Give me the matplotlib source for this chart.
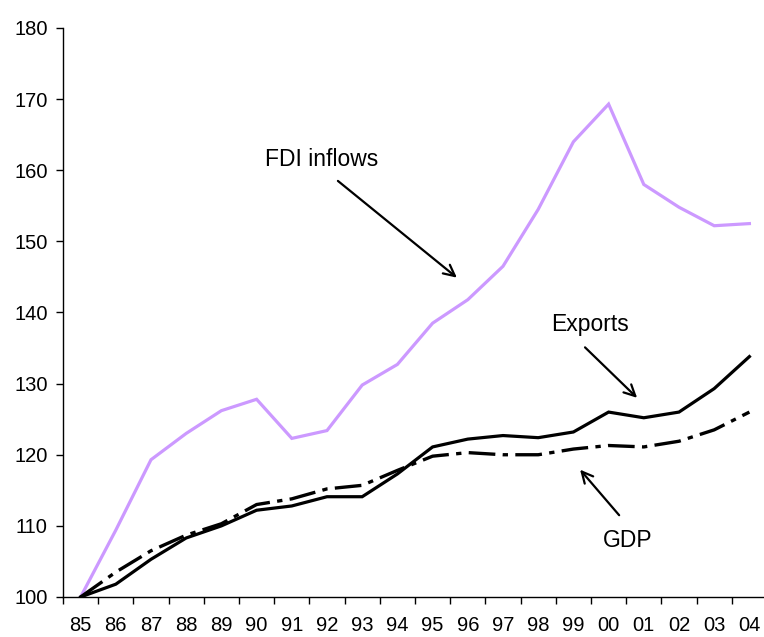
import matplotlib
matplotlib.use("Agg")
import matplotlib.pyplot as plt
import numpy as np

plt.rcParams["font.family"] = ["Liberation Sans", "DejaVu Sans"]

years = ["85", "86", "87", "88", "89", "90", "91", "92", "93", "94",
         "95", "96", "97", "98", "99", "00", "01", "02", "03", "04"]
fdi = [100, 109.4, 119.3, 123.0, 126.2, 127.8, 122.3, 123.4, 129.8, 132.7,
       138.5, 141.8, 146.5, 154.5, 164.0, 169.3, 158.0, 154.8, 152.2, 152.5]
exports = [100, 101.8, 105.3, 108.3, 110.0, 112.2, 112.8, 114.1, 114.1, 117.3,
           121.1, 122.2, 122.7, 122.4, 123.2, 126.0, 125.2, 126.0, 129.3, 133.8]
gdp = [100, 103.5, 106.5, 108.7, 110.3, 113.0, 113.8, 115.2, 115.7, 117.8,
       119.8, 120.3, 120.0, 120.0, 120.8, 121.3, 121.1, 121.9, 123.5, 126.0]

W, H = 764, 637
fig = plt.figure(figsize=(W / 100, H / 100), dpi=100)
ax = fig.add_axes([63 / W, 40 / H, 704 / W, 569 / H])

x = np.arange(len(years))
ax.plot(x, fdi, color="#cc99ff", lw=2.3, solid_joinstyle="miter")
ax.plot(x, exports, color="black", lw=2.3, solid_joinstyle="miter")
ax.plot(x, gdp, color="black", lw=2.4, linestyle=(0, (8, 2.2, 1.6, 2.2)),
        dash_capstyle="butt")

ax.set_xlim(-0.5, len(years) - 0.5)
ax.set_ylim(100, 180)
ax.set_yticks(range(100, 181, 10))
ax.set_xticks(x)
ax.set_xticklabels(years)
ax.set_xticks(np.arange(-0.5, len(years)), minor=True)
ax.tick_params(axis="x", which="major", length=0, pad=14, labelsize=14.5)
ax.tick_params(axis="x", which="minor", length=5, width=1, direction="out")
ax.tick_params(axis="y", length=5, width=1, direction="out", pad=6,
               labelsize=14.5)
for sp in ["top", "right"]:
    ax.spines[sp].set_visible(False)
for sp in ["left", "bottom"]:
    ax.spines[sp].set_linewidth(1)

arrow = dict(arrowstyle="->", color="black", lw=1.6,
             mutation_scale=20, shrinkA=0, shrinkB=0)
ax.annotate("", xy=(10.69, 144.9), xytext=(7.31, 158.5), arrowprops=arrow)
ax.text(6.86, 161.5, "FDI inflows", fontsize=16.5, ha="center", va="center")
ax.annotate("", xy=(15.81, 128.0), xytext=(14.33, 135.1), arrowprops=arrow)
ax.text(14.47, 138.3, "Exports", fontsize=16.5, ha="center", va="center")
ax.annotate("", xy=(14.19, 117.9), xytext=(15.30, 111.5), arrowprops=arrow)
ax.text(15.55, 108.0, "GDP", fontsize=16.5, ha="center", va="center")

fig.savefig("out.png", dpi=100)
